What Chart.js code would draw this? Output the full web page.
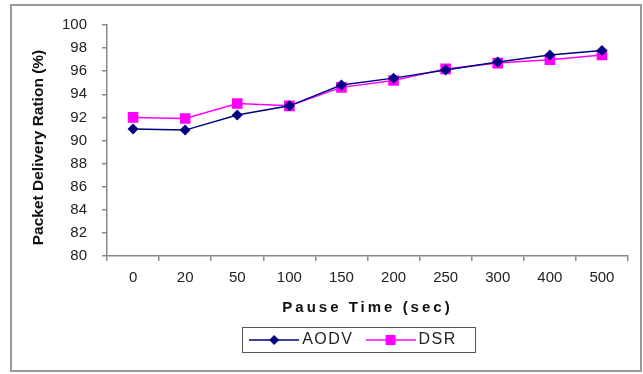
<!DOCTYPE html>
<html lang="en">
<head>
    <meta charset="UTF-8">
    <title>Packet Delivery Ration vs Pause Time</title>
    <script src="https://cdn.jsdelivr.net/npm/chart.js"></script>
    <style>
        body {
            margin: 0;
            background: #fff;
        }
        canvas {
            display: block;
        }
    </style>
</head>
<body>
    <canvas id="pdrChart" width="643" height="374"></canvas>

    <script>
        // data
        const pauseTimes = ['0', '20', '50', '100', '150', '200', '250', '300', '400', '500'];
        const aodvValues = [91.0, 90.9, 92.2, 93.0, 94.8, 95.4, 96.1, 96.8, 97.4, 97.8];
        const dsrValues = [92.0, 91.9, 93.2, 93.0, 94.6, 95.2, 96.2, 96.7, 97.0, 97.4];

        const aodvColor = '#000080';
        const dsrColor = '#ff00ff';

        Chart.defaults.font.family = '"Liberation Sans", Arial, sans-serif';
        Chart.defaults.color = '#222';

        // little legend picture: line with the marker in the middle
        function legendImage(color, style) {
            const c = document.createElement('canvas');
            c.width = 50;
            c.height = 14;
            const g = c.getContext('2d');
            g.strokeStyle = color;
            g.fillStyle = color;
            g.lineWidth = 1.5;
            g.beginPath();
            g.moveTo(0, 7);
            g.lineTo(50, 7);
            g.stroke();
            g.beginPath();
            if (style === 'diamond') {
                g.moveTo(25, 2); g.lineTo(30, 7); g.lineTo(25, 12); g.lineTo(20, 7);
                g.closePath();
            } else {
                g.rect(20, 2, 10, 10);
            }
            g.fill();
            return c;
        }
        const legendPics = [legendImage(aodvColor, 'diamond'), legendImage(dsrColor, 'square')];

        function spaced(fn, px) {
            return function () {
                const old = this.ctx.letterSpacing;
                this.ctx.letterSpacing = px;
                const r = fn.apply(this, arguments);
                this.ctx.letterSpacing = old;
                return r;
            };
        }

        const framePlugin = {
            id: 'frame',
            beforeLayout(chart) {
                const lg = chart.legend;
                if (lg && !lg._spaced) {
                    lg.fit = spaced(lg.fit, '1.5px');
                    lg.draw = spaced(lg.draw, '1.5px');
                    lg._spaced = true;
                }
            },
            beforeDraw(chart) {
                const ctx = chart.ctx;
                ctx.save();
                ctx.fillStyle = '#fff';
                ctx.fillRect(0, 0, chart.width, chart.height);
                ctx.strokeStyle = '#9a9a9a';
                ctx.lineWidth = 2;
                ctx.strokeRect(11, 5, 630, 366);
                ctx.restore();
            },
            afterLayout(chart) {
                // nudge legend left, like the original
                chart.legend.left -= 12;
                chart.legend.right -= 12;
                const xs = chart.scales.x;
                if (!xs._spaced) {
                    xs.drawTitle = spaced(xs.drawTitle, '3px');
                    xs._spaced = true;
                }
                const ys = chart.scales.y;
                if (!ys._moved) {
                    const orig = ys.drawTitle;
                    ys.drawTitle = function () {
                        this.ctx.save();
                        this.ctx.translate(0, 7);
                        orig.call(this);
                        this.ctx.restore();
                    };
                    ys._moved = true;
                }
            },
            afterDraw(chart) {
                const lg = chart.legend;
                const pad = lg.options.labels.padding;
                const lw = lg.lineWidths[0];
                const startX = (lg.left + pad + lg.right - lw) / 2;
                const endX = startX + lw - pad;
                const ctx = chart.ctx;
                ctx.save();
                ctx.strokeStyle = '#555';
                ctx.lineWidth = 1;
                ctx.strokeRect(Math.round(startX - 12) + 0.5, 327.5, Math.round(endX - startX + 30), 25);
                ctx.restore();
            }
        };

        new Chart(document.getElementById('pdrChart'), {
            type: 'line',
            data: {
                labels: pauseTimes,
                datasets: [
                    {
                        label: 'AODV',
                        data: aodvValues,
                        borderColor: aodvColor,
                        backgroundColor: aodvColor,
                        borderWidth: 1.5,
                        pointStyle: 'rectRot',
                        pointRadius: 5.5,
                        pointBorderWidth: 0,
                        tension: 0
                    },
                    {
                        label: 'DSR',
                        data: dsrValues,
                        borderColor: dsrColor,
                        backgroundColor: dsrColor,
                        borderWidth: 1.5,
                        pointStyle: 'rect',
                        pointRadius: 7.5,
                        pointBorderWidth: 0,
                        tension: 0
                    }
                ]
            },
            options: {
                responsive: false,
                animation: false,
                layout: {
                    padding: { left: 15, top: 25, right: 15, bottom: 16 }
                },
                scales: {
                    x: {
                        offset: true,
                        grid: { offset: true, drawOnChartArea: false, tickLength: 5, color: '#888', lineWidth: 1.5 },
                        border: { color: '#888', width: 1.5 },
                        ticks: { padding: 8, font: { size: 15 }, color: '#222' },
                        title: {
                            display: true,
                            text: 'Pause Time (sec)',
                            font: { size: 15, weight: 'bold', lineHeight: 1 },
                            color: '#111',
                            padding: { top: 0, bottom: 0 }
                        },
                        afterFit(s) { s.height = 59; }
                    },
                    y: {
                        min: 80,
                        max: 100,
                        grid: { drawOnChartArea: false, tickLength: 5, color: '#888', lineWidth: 1.5 },
                        border: { color: '#888', width: 1.5 },
                        ticks: { stepSize: 2, padding: 15, font: { size: 15 }, color: '#222' },
                        title: {
                            display: true,
                            text: 'Packet Delivery Ration (%)',
                            font: { size: 15.5, weight: 'bold' },
                            color: '#111',
                            padding: { top: 14, bottom: 0 }
                        },
                        afterFit(s) { s.width = 92; }
                    }
                },
                plugins: {
                    legend: {
                        position: 'bottom',
                        fullSize: false,
                        labels: {
                            usePointStyle: true,
                            pointStyleWidth: 40,
                            padding: 17,
                            font: { size: 16 },
                            color: '#222',
                            generateLabels(chart) {
                                const items = Chart.defaults.plugins.legend.labels.generateLabels(chart);
                                items.forEach((it, i) => { it.pointStyle = legendPics[i]; });
                                return items;
                            }
                        }
                    },
                    tooltip: { enabled: false }
                }
            },
            plugins: [framePlugin]
        });
    </script>
</body>
</html>
